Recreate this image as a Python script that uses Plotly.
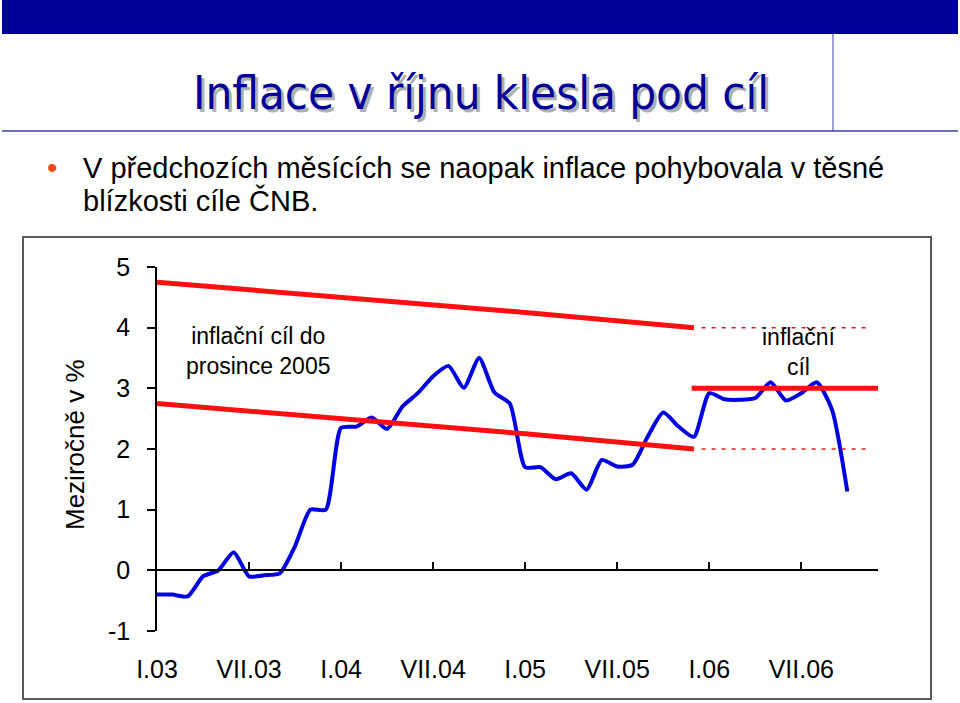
import plotly.graph_objects as go

# meziroční inflace, I.2003 - X.2006 (měsíčně)
inflation = [-0.4, -0.4, -0.43, -0.1, 0.0, 0.3, -0.1, -0.08, -0.05, 0.4, 1.0, 1.0,
             2.35, 2.37, 2.52, 2.33, 2.7, 2.92, 3.2, 3.37, 3.01, 3.5, 2.93, 2.75,
             1.7, 1.7, 1.5, 1.6, 1.33, 1.82, 1.71, 1.74, 2.21, 2.6, 2.37, 2.2,
             2.92, 2.82, 2.81, 2.84, 3.1, 2.8, 2.92, 3.1, 2.65, 1.3]
months = list(range(len(inflation)))

# pásmo cíle do prosince 2005
band_months = [0, 12, 24, 35]
band_upper = [4.75, 4.5, 4.25, 4.0]
band_lower = [2.75, 2.5, 2.25, 2.0]

# nový cíl od ledna 2006
target_months = [34.85, 47]
target_value = [3.0, 3.0]
dotted_months = [35.5, 46.5]
dotted_upper = [4.0, 4.0]
dotted_lower = [2.0, 2.0]

tick_pos = [0, 6, 12, 18, 24, 30, 36, 42]
tick_text = ["I.03", "VII.03", "I.04", "VII.04", "I.05", "VII.05", "I.06", "VII.06"]
y_vals = [-1, 0, 1, 2, 3, 4, 5]
y_text = ["-1", "0", "1", "2", "3", "4", "5"]

W, H = 960, 703
L, R, T, B = 157, 878, 267, 631   # plocha grafu v pixelech


def px(x):
    return (x - L) / (R - L)


def py(y):
    return (B - y) / (B - T)


RED = "rgb(255,15,15)"
BLUE = "rgb(0,0,225)"
NAVY = "rgb(0,0,153)"
FONT = "Liberation Sans"


def note(text, x, y, size, color="black", family=FONT, xanchor="center", **kw):
    return dict(text=text, xref="paper", yref="paper", x=px(x), y=py(y),
                xanchor=xanchor, yanchor="middle", showarrow=False,
                font=dict(family=family, size=size, color=color), **kw)


fig = go.Figure()

for ys in (band_upper, band_lower):
    fig.add_trace(go.Scatter(x=band_months, y=ys, mode="lines", xaxis="x2",
                             line=dict(color=RED, width=5)))
for ys in (dotted_upper, dotted_lower):
    fig.add_trace(go.Scatter(x=dotted_months, y=ys, mode="lines", xaxis="x2",
                             line=dict(color="rgb(215,30,30)", width=1.5, dash="4px,6px")))
fig.add_trace(go.Scatter(x=target_months, y=target_value, mode="lines", xaxis="x2",
                         line=dict(color=RED, width=5)))
fig.add_trace(go.Scatter(x=months, y=inflation, mode="lines",
                         line=dict(color=BLUE, width=4, shape="spline", smoothing=0.6)))

shapes = [
    dict(type="rect", xref="paper", yref="paper", x0=px(2), x1=px(958), y0=py(0), y1=py(34),
         fillcolor=NAVY, line=dict(width=0), layer="below"),
    dict(type="line", xref="paper", yref="paper", x0=px(833), x1=px(833), y0=py(34), y1=py(131),
         line=dict(color="rgb(60,60,160)", width=1)),
    dict(type="line", xref="paper", yref="paper", x0=px(2), x1=px(958), y0=py(131), y1=py(131),
         line=dict(color="rgb(60,60,160)", width=1.5)),
    dict(type="rect", xref="paper", yref="paper", x0=px(23), x1=px(931), y0=py(237), y1=py(699),
         line=dict(color="rgb(90,90,90)", width=2), layer="below"),
]

title = "Inflace v říjnu klesla pod cíl"
annotations = [
    note(title, 484, 96, 47, "rgb(175,175,175)", "DejaVu Sans Condensed"),
    note(title, 481, 93, 47, NAVY, "DejaVu Sans Condensed"),
    note("•", 52, 167, 30, "rgb(235,75,30)"),
    note("V předchozích měsících se naopak inflace pohybovala v těsné", 81, 168, 29,
         xanchor="left"),
    note("blízkosti cíle ČNB.", 81, 200, 29, xanchor="left"),
    note("Meziročně v %", 75, 445, 26, textangle=-90),
    dict(text="inflační cíl do<br>prosince 2005", x=6.6, y=3.62, xref="x", yref="y",
         xanchor="center", yanchor="middle",
         showarrow=False, font=dict(family=FONT, size=23, color="black")),
    dict(text="inflační<br>cíl", x=41.8, y=3.6, xref="x", yref="y",
         xanchor="center", yanchor="middle",
         showarrow=False, font=dict(family=FONT, size=23, color="black")),
]

fig.update_layout(
    width=W, height=H,
    margin=dict(l=L, r=W - R, t=T, b=H - B),
    paper_bgcolor="white", plot_bgcolor="white",
    showlegend=False,
    shapes=shapes,
    annotations=annotations,
    xaxis=dict(range=[0, 47], anchor="free", position=1 / 6, showline=True,
               linecolor="black", linewidth=1.5, ticks="inside", ticklen=8,
               tickcolor="black", tickwidth=1.5, tickvals=tick_pos, showticklabels=False,
               showgrid=False, zeroline=False),
    xaxis2=dict(range=[0, 47], overlaying="x", anchor="y", side="bottom",
                showline=False, ticks="outside", ticklen=16, tickcolor="rgba(0,0,0,0)",
                tickvals=tick_pos, ticktext=tick_text, showgrid=False, zeroline=False,
                tickfont=dict(family=FONT, size=25, color="black")),
    yaxis=dict(range=[-1, 5], tickvals=y_vals, ticktext=y_text, showline=True,
               linecolor="black", linewidth=1.5,
               ticks="outside", ticklen=8, tickcolor="black", tickwidth=1.5,
               ticklabelstandoff=12, showgrid=False, zeroline=False,
               tickfont=dict(family=FONT, size=25, color="black")),
)

# bez výchozího okraje stránky, aby obrázek začínal v levém horním rohu
fig.write_html("out.html", config={"displayModeBar": False},
               post_script="document.body.style.margin='0';")
